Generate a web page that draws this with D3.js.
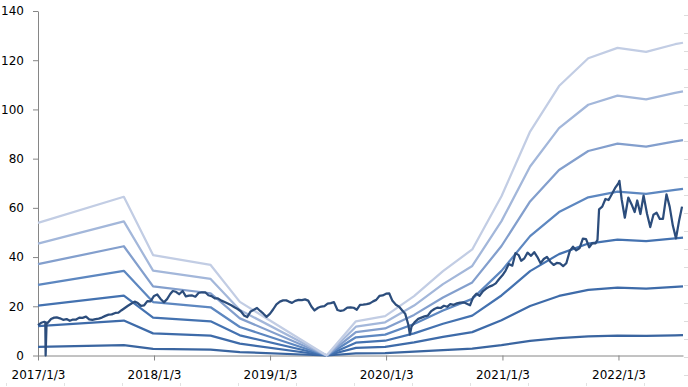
<!DOCTYPE html>
<html>
<head>
<meta charset="utf-8">
<script src="https://cdn.jsdelivr.net/npm/d3@7"></script>
<style>
  body { margin: 0; background: #fff; }
  text { font-family: "DejaVu Sans", sans-serif; }
</style>
</head>
<body>
<svg id="chart" width="688" height="387"></svg>
<script>
// y ticks and x tick dates
const yTicks = [0, 20, 40, 60, 80, 100, 120, 140];
const xTickDates = ['2017-01-03', '2018-01-03', '2019-01-03', '2020-01-03', '2021-01-03', '2022-01-03'];

// band knots (quarter ends)
const bandDates = ['2017-01-03', '2017-09-30', '2017-12-31', '2018-06-30', '2018-09-30', '2019-06-30',
  '2019-09-30', '2019-12-31', '2020-03-31', '2020-06-30', '2020-09-30', '2020-12-31', '2021-03-31',
  '2021-06-30', '2021-09-30', '2021-12-31', '2022-03-31', '2022-06-30', '2022-07-25'];
const band1 = [3.5, 4.2, 2.7, 2.4, 1.4, 0, 0.9, 1.0, 1.6, 2.2, 2.8, 4.2, 5.9, 7.1, 7.8, 8.1, 8.0, 8.2, 8.3];
const band2 = [11.9, 14.2, 9.0, 8.1, 4.8, 0, 3.1, 3.5, 5.3, 7.6, 9.5, 14.3, 20.1, 24.2, 26.7, 27.6, 27.2, 27.9, 28.1];
const band3 = [20.3, 24.3, 15.4, 13.9, 8.2, 0, 5.2, 6.0, 9.0, 12.9, 16.2, 24.4, 34.3, 41.2, 45.5, 47.1, 46.5, 47.6, 47.9];
const band4 = [28.7, 34.4, 21.7, 19.6, 11.6, 0, 7.4, 8.5, 12.8, 18.3, 23.0, 34.4, 48.5, 58.3, 64.3, 66.6, 65.7, 67.3, 67.7];
const band5 = [37.1, 44.4, 28.1, 25.3, 15.1, 0, 9.5, 11.0, 16.5, 23.6, 29.7, 44.5, 62.6, 75.4, 83.1, 86.1, 84.9, 87.0, 87.5];
const band6 = [45.5, 54.5, 34.5, 31.1, 18.5, 0, 11.7, 13.5, 20.3, 29.0, 36.4, 54.6, 76.8, 92.4, 101.9, 105.6, 104.1, 106.7, 107.3];
const band7 = [53.9, 64.5, 40.8, 36.8, 21.8, 0, 13.9, 16.0, 24.1, 34.3, 43.1, 64.7, 91.0, 109.5, 120.8, 125.0, 123.4, 126.5, 127.1];
const bandColors = ['#3a65a0', '#3e6ba9', '#4472b0', '#5d87c0', '#839fcd', '#a3b7da', '#c2cde4'];

// price series
const priceDates = [
  '2017-01-03', '2017-01-13', '2017-01-23', '2017-01-26', '2017-01-27', '2017-01-30',
  '2017-02-03', '2017-02-13', '2017-02-23', '2017-03-03', '2017-03-13', '2017-03-23',
  '2017-04-03', '2017-04-13', '2017-04-23', '2017-05-03', '2017-05-13', '2017-05-23',
  '2017-06-03', '2017-06-13', '2017-06-23', '2017-07-03', '2017-07-13', '2017-07-23',
  '2017-08-03', '2017-08-13', '2017-08-23', '2017-09-03', '2017-09-13', '2017-09-23',
  '2017-10-03', '2017-10-13', '2017-10-23', '2017-11-03', '2017-11-13', '2017-11-23',
  '2017-12-03', '2017-12-13', '2017-12-23',
  '2018-01-03', '2018-01-13', '2018-01-23', '2018-02-03', '2018-02-13', '2018-02-23',
  '2018-03-03', '2018-03-13', '2018-03-23', '2018-04-03', '2018-04-13', '2018-04-23',
  '2018-05-03', '2018-05-13', '2018-05-23', '2018-06-03', '2018-06-13', '2018-06-23',
  '2018-07-03', '2018-07-13', '2018-07-23', '2018-08-03', '2018-08-13', '2018-08-23',
  '2018-09-03', '2018-09-13', '2018-09-23', '2018-10-03', '2018-10-13', '2018-10-23',
  '2018-11-03', '2018-11-13', '2018-11-23', '2018-12-03', '2018-12-13', '2018-12-23',
  '2019-01-03', '2019-01-13', '2019-01-23', '2019-02-03', '2019-02-13', '2019-02-23',
  '2019-03-03', '2019-03-13', '2019-03-23', '2019-04-03', '2019-04-13', '2019-04-23',
  '2019-05-03', '2019-05-13', '2019-05-23', '2019-06-03', '2019-06-13', '2019-06-23',
  '2019-07-03', '2019-07-13', '2019-07-23', '2019-08-03', '2019-08-13', '2019-08-23',
  '2019-09-03', '2019-09-13', '2019-09-23', '2019-10-03', '2019-10-13', '2019-10-23',
  '2019-11-03', '2019-11-13', '2019-11-23', '2019-12-03', '2019-12-13', '2019-12-23',
  '2020-01-03', '2020-01-13', '2020-01-23', '2020-02-03', '2020-02-13', '2020-02-23',
  '2020-03-03', '2020-03-13', '2020-03-18', '2020-03-23', '2020-04-03', '2020-04-13', '2020-04-23',
  '2020-05-03', '2020-05-13', '2020-05-23', '2020-06-03', '2020-06-13', '2020-06-23',
  '2020-07-03', '2020-07-13', '2020-07-23', '2020-08-03', '2020-08-13', '2020-08-23',
  '2020-09-03', '2020-09-13', '2020-09-23', '2020-10-03', '2020-10-13', '2020-10-23',
  '2020-11-03', '2020-11-13', '2020-11-23', '2020-12-03', '2020-12-13', '2020-12-23',
  '2021-01-03', '2021-01-13', '2021-01-23', '2021-02-03', '2021-02-13', '2021-02-23',
  '2021-03-03', '2021-03-13', '2021-03-23', '2021-04-03', '2021-04-13', '2021-04-23',
  '2021-05-03', '2021-05-13', '2021-05-23', '2021-06-03', '2021-06-13', '2021-06-23',
  '2021-07-03', '2021-07-13', '2021-07-23', '2021-08-03', '2021-08-13', '2021-08-23',
  '2021-09-03', '2021-09-13', '2021-09-23', '2021-10-03', '2021-10-13', '2021-10-23', '2021-10-29',
  '2021-11-03', '2021-11-13', '2021-11-23', '2021-12-03', '2021-12-13', '2021-12-23',
  '2022-01-03', '2022-01-06', '2022-01-13', '2022-01-23', '2022-02-03', '2022-02-13', '2022-02-23',
  '2022-03-03', '2022-03-13', '2022-03-23', '2022-04-03', '2022-04-13', '2022-04-23',
  '2022-05-03', '2022-05-13', '2022-05-23', '2022-06-03', '2022-06-13', '2022-06-23',
  '2022-07-03', '2022-07-13', '2022-07-22'
];
const priceValues = [
  12.3, 13.3, 13.7, 13.5, 0, 13.4,
  13.3, 14.8, 15.4, 15.5, 15.1, 14.5,
  14.8, 14.1, 14.6, 14.6, 15.4, 15.3,
  15.8, 14.7, 14.5, 14.8, 15.0, 15.4,
  16.1, 16.6, 16.7, 17.3, 17.4, 18.4,
  19.3, 20.2, 21.0, 21.9, 21.3, 20.2,
  20.4, 22.1, 22.0,
  24.2, 24.8, 23.1, 21.6, 22.9, 25.0,
  26.2, 25.9, 24.9, 26.2, 24.0, 24.3,
  24.4, 23.9, 25.4, 25.7, 25.7, 24.5,
  24.1, 23.2, 23.2, 22.3, 21.7, 21.1,
  20.4, 19.6, 18.9, 18.0, 16.3, 15.6,
  17.9, 18.6, 19.3, 18.1, 17.0, 15.7,
  17.0, 18.8, 20.8, 21.9, 22.4, 22.4,
  21.9, 21.4, 22.2, 22.6, 22.5, 22.8,
  22.3, 19.9, 18.3, 19.4, 19.9, 20.1,
  21.1, 21.3, 21.7, 18.5, 18.1, 18.4,
  19.5, 19.6, 19.4, 18.6, 20.6, 20.7,
  20.9, 21.2, 22.0, 22.6, 24.2, 24.4,
  25.1, 25.2, 22.2, 20.6, 19.8, 18.3,
  17.0, 12.5, 8.5, 11.8, 13.7, 14.9, 15.4,
  15.9, 16.2, 17.9, 18.9, 19.5, 19.3,
  20.2, 19.8, 20.9, 20.6, 21.2, 21.5,
  21.6, 21.0, 20.4, 23.7, 25.1, 24.3,
  26.2, 27.2, 28.0, 28.5, 29.3, 31.0,
  32.6, 34.5, 37.2, 36.5, 41.6, 40.8,
  38.5, 39.5, 41.8, 40.5, 42.0, 40.0,
  37.5, 39.2, 40.1, 38.0, 36.8, 37.6,
  37.4, 36.3, 37.5, 42.5, 44.2, 42.7,
  43.7, 47.5, 47.3, 44.0, 45.7, 45.6, 47.0,
  59.4, 60.5, 63.6, 63.2, 65.5, 68.0,
  70.0, 71.0, 63.5, 56.0, 64.2, 61.5, 58.3,
  63.0, 57.5, 65.0, 57.5, 52.2, 57.2,
  58.0, 55.5, 55.5, 65.5, 60.5, 52.8,
  47.6, 55.0, 60.5
];

const parse = d3.timeParse('%Y-%m-%d');
const svg = d3.select('#chart');

const x = d3.scaleTime()
  .domain([parse('2017-01-03'), parse('2022-07-25')])
  .range([38, 683]);

const y = d3.scaleLinear()
  .domain([0, 140])
  .range([355.5, 11]);

// faint secondary tick marks on the right and bottom edges
const yFaint = d3.scaleLinear().domain([0, 20]).range([375, 15]);
svg.append('g')
  .attr('transform', 'translate(688,0)')
  .call(d3.axisLeft(yFaint).ticks(20).tickSize(4).tickFormat(''))
  .call(g => g.select('.domain').remove())
  .call(g => g.selectAll('line').attr('stroke', '#dcdcdc'));

const xFaint = d3.scaleLinear().domain([0, 11]).range([6, 644]);
svg.append('g')
  .attr('transform', 'translate(0,383)')
  .call(d3.axisBottom(xFaint).ticks(11).tickSize(3).tickFormat(''))
  .call(g => g.select('.domain').remove())
  .call(g => g.selectAll('line').attr('stroke', '#e2e2e2'));

// axes
svg.append('g')
  .attr('id', 'y-axis')
  .attr('transform', `translate(${x.range()[0]},0)`)
  .call(d3.axisLeft(y).tickValues(yTicks).tickSize(5).tickSizeOuter(0).tickPadding(9))
  .call(g => g.selectAll('path, line').attr('stroke', '#868686'))
  .call(g => g.selectAll('text').attr('font-size', 12).attr('fill', '#000'));

svg.append('g')
  .attr('id', 'x-axis')
  .attr('transform', `translate(0,${y(0)})`)
  .call(d3.axisBottom(x)
    .tickValues(xTickDates.map(parse))
    .tickFormat(d3.timeFormat('%Y/%-m/%-d'))
    .tickSize(5).tickSizeOuter(0).tickPadding(10))
  .call(g => g.selectAll('path, line').attr('stroke', '#868686'))
  .call(g => g.selectAll('text').attr('font-size', 12).attr('fill', '#000'));

// band lines
const bands = [band1, band2, band3, band4, band5, band6, band7];
const line = d3.line()
  .x(d => x(d[0]))
  .y(d => y(d[1]));

svg.append('g')
  .selectAll('path')
  .data(bands)
  .enter()
  .append('path')
  .attr('fill', 'none')
  .attr('stroke', (d, i) => bandColors[i])
  .attr('stroke-width', 2.25)
  .attr('stroke-linejoin', 'round')
  .attr('d', vals => line(vals.map((v, j) => [parse(bandDates[j]), v])));

// price line
const price = priceDates.map((d, i) => [parse(d), priceValues[i]]);
svg.append('path')
  .datum(price)
  .attr('fill', 'none')
  .attr('stroke', '#2c4d7c')
  .attr('stroke-width', 2.25)
  .attr('stroke-linejoin', 'round')
  .attr('d', line);
</script>
</body>
</html>
